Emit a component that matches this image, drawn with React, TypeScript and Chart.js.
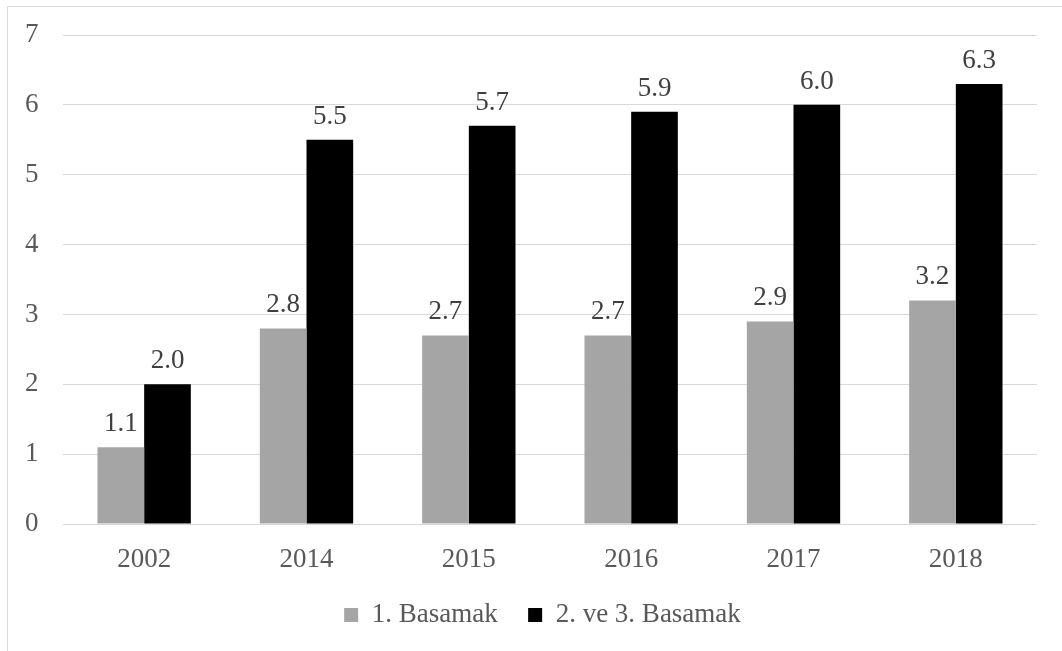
import React, { useEffect, useRef } from "react";
import { Chart, registerables } from "chart.js";

Chart.register(...registerables);

// Years on the category axis
const categories = ["2002", "2014", "2015", "2016", "2017", "2018"];
// First-level values
const firstLevel = [1.1, 2.8, 2.7, 2.7, 2.9, 3.2];
// Second- and third-level values
const secondThirdLevel = [2.0, 5.5, 5.7, 5.9, 6.0, 6.3];
// Value axis range
const yMin = 0;
const yMax = 7;
const yStep = 1;

const FONT = "'Liberation Serif', 'Times New Roman', serif";
const TEXT = "#595959";
const GRID = "#d9d9d9";

// Writes each bar's value above it
const valueLabels = {
  id: "valueLabels",
  afterDatasetsDraw(chart: any) {
    const ctx = chart.ctx;
    ctx.save();
    ctx.font = `27px ${FONT}`;
    ctx.fillStyle = "#404040";
    ctx.textAlign = "center";
    ctx.textBaseline = "alphabetic";
    chart.data.datasets.forEach((ds: any, i: number) => {
      const meta = chart.getDatasetMeta(i);
      meta.data.forEach((bar: any, j: number) => {
        const v = ds.data[j] as number;
        ctx.fillText(v.toFixed(1), bar.x, bar.y - 16);
      });
    });
    ctx.restore();
  },
};

export default function App() {
  const ref = useRef<HTMLCanvasElement | null>(null);

  useEffect(() => {
    if (!ref.current) return;
    const chart = new Chart(ref.current, {
      type: "bar",
      data: {
        labels: categories,
        datasets: [
          {
            label: "1. Basamak",
            data: firstLevel,
            backgroundColor: "#a5a5a5",
            categoryPercentage: 0.575,
            barPercentage: 1,
          },
          {
            label: "2. ve 3. Basamak",
            data: secondThirdLevel,
            backgroundColor: "#000000",
            categoryPercentage: 0.575,
            barPercentage: 1,
          },
        ],
      },
      options: {
        responsive: false,
        animation: false,
        layout: { padding: { left: 48, right: 25, top: 35, bottom: 12.5 } },
        scales: {
          x: {
            grid: { display: false },
            border: { display: false },
            ticks: {
              color: TEXT,
              font: { family: FONT, size: 27, lineHeight: 1 },
              padding: 14,
            },
            afterFit: (s: any) => {
              s.height = 47;
            },
          },
          y: {
            min: yMin,
            max: yMax,
            border: { display: false },
            grid: { color: GRID, lineWidth: 1, drawTicks: false },
            ticks: {
              stepSize: yStep,
              color: TEXT,
              font: { family: FONT, size: 27, lineHeight: 1 },
              // labels sit left-aligned at the far left of the card
              mirror: true,
              padding: -38,
            },
            afterFit: (s: any) => {
              s.width = 15;
            },
          },
        },
        plugins: {
          legend: {
            position: "bottom",
            labels: {
              boxWidth: 14,
              boxHeight: 14,
              padding: 30.5,
              color: TEXT,
              font: { family: FONT, size: 27 },
            },
          },
          tooltip: { enabled: false },
        },
      },
      plugins: [valueLabels],
    });
    return () => chart.destroy();
  }, []);

  return (
    <div
      style={{
        position: "fixed",
        left: 0,
        top: 0,
        width: 1062,
        height: 651,
        overflow: "hidden",
        background: "#fff",
      }}
    >
      <div
        style={{
          position: "absolute",
          left: 7,
          top: 6,
          width: 1100,
          height: 700,
          border: `1px solid ${GRID}`,
          boxSizing: "border-box",
        }}
      />
      <canvas
        ref={ref}
        width={1062}
        height={651}
        style={{ position: "absolute", left: 0, top: 0, width: 1062, height: 651 }}
      />
    </div>
  );
}
